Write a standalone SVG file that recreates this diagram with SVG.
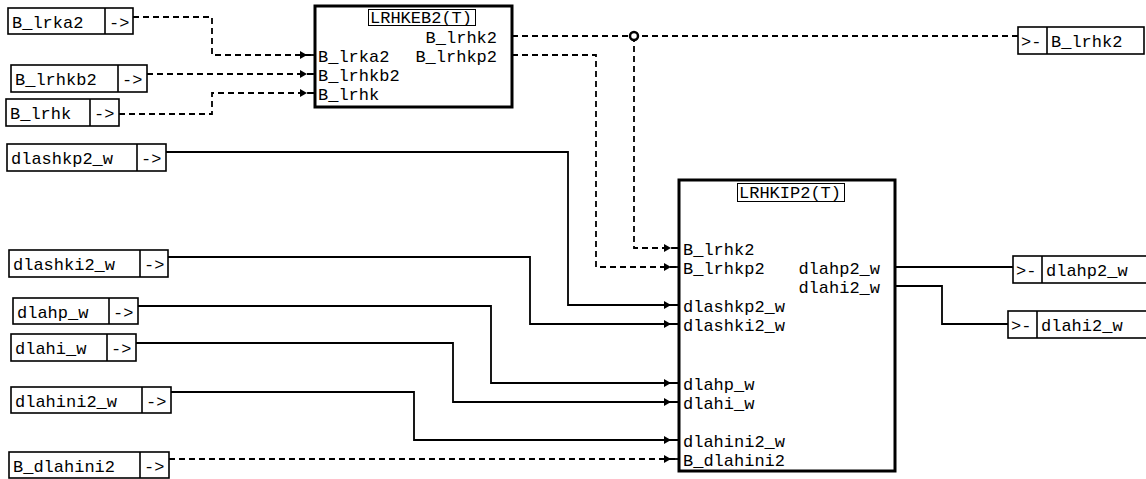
<svg xmlns="http://www.w3.org/2000/svg" width="1146" height="479" viewBox="0 0 1146 479">
<defs>
<style>
text{font-family:"Liberation Mono","DejaVu Sans Mono",monospace;font-size:17px;fill:#000}
.io{fill:#fff;stroke:#000;stroke-width:1.6}
.blk{fill:#fff;stroke:#000;stroke-width:3}
.ttl{fill:#fff;stroke:#000;stroke-width:1}
.c{fill:none;stroke:#000;stroke-width:1.8}
.d{stroke-dasharray:6,4}
.a{marker-end:url(#arr)}
.end{text-anchor:end}
</style>
<marker id="arr" markerUnits="userSpaceOnUse" markerWidth="16" markerHeight="10" refX="15" refY="4" orient="auto">
<path d="M0,0 L7,4 L0,8 Z" fill="#000"/>
<path d="M7,4 L15,4" stroke="#000" stroke-width="1.8"/>
</marker>
</defs>
<rect width="1146" height="479" fill="#fff"/>

<g id="connectors">
<path class="c d a" d="M133,17 H212 V55 H315"/>
<path class="c d a" d="M147,74 H315"/>
<path class="c d a" d="M119,114 H212 V93 H315"/>
<path class="c d" d="M512,36 H1018"/>
<path class="c d a" d="M634,36 V248 H679"/>
<path class="c d a" d="M512,55 H596 V267 H679"/>
<path class="c a" d="M166,152 H568 V305 H679"/>
<path class="c a" d="M168,257 H530 V324 H679"/>
<path class="c a" d="M138,306 H491 V383 H679"/>
<path class="c a" d="M136,343 H453 V402 H679"/>
<path class="c a" d="M171,392 H414 V440 H679"/>
<path class="c d a" d="M169,459 H679"/>
<path class="c" d="M895,267 H1013"/>
<path class="c" d="M895,286 H942 V324 H1008"/>
<circle cx="634" cy="36" r="4" fill="#fff" stroke="#000" stroke-width="2.5"/>
</g>

<g id="in_B_lrka2"><rect class="io" x="8" y="8" width="125" height="26"/><line class="io" x1="105" y1="8" x2="105" y2="34"/><text x="12" y="28">B_lrka2</text><text x="109" y="28">-&gt;</text></g>
<g id="in_B_lrhkb2"><rect class="io" x="11" y="65" width="136" height="27"/><line class="io" x1="118" y1="65" x2="118" y2="92"/><text x="15" y="85">B_lrhkb2</text><text x="122" y="85">-&gt;</text></g>
<g id="in_B_lrhk"><rect class="io" x="6" y="99" width="113" height="27"/><line class="io" x1="90" y1="99" x2="90" y2="126"/><text x="10" y="119">B_lrhk</text><text x="94" y="119">-&gt;</text></g>
<g id="in_dlashkp2_w"><rect class="io" x="7" y="144" width="159" height="27"/><line class="io" x1="137" y1="144" x2="137" y2="171"/><text x="11" y="164">dlashkp2_w</text><text x="141" y="164">-&gt;</text></g>
<g id="in_dlashki2_w"><rect class="io" x="9" y="250" width="159" height="27"/><line class="io" x1="140" y1="250" x2="140" y2="277"/><text x="13" y="270">dlashki2_w</text><text x="144" y="270">-&gt;</text></g>
<g id="in_dlahp_w"><rect class="io" x="13" y="298" width="125" height="26"/><line class="io" x1="109" y1="298" x2="109" y2="324"/><text x="17" y="318">dlahp_w</text><text x="113" y="318">-&gt;</text></g>
<g id="in_dlahi_w"><rect class="io" x="11" y="334" width="125" height="27"/><line class="io" x1="107" y1="334" x2="107" y2="361"/><text x="15" y="354">dlahi_w</text><text x="111" y="354">-&gt;</text></g>
<g id="in_dlahini2_w"><rect class="io" x="11" y="387" width="160" height="26"/><line class="io" x1="142" y1="387" x2="142" y2="413"/><text x="15" y="407">dlahini2_w</text><text x="146" y="407">-&gt;</text></g>
<g id="in_B_dlahini2"><rect class="io" x="9" y="452" width="160" height="26"/><line class="io" x1="140" y1="452" x2="140" y2="478"/><text x="13" y="472">B_dlahini2</text><text x="144" y="472">-&gt;</text></g>

<g id="LRHKEB2">
<rect class="blk" x="315" y="6" width="197" height="101"/>
<rect class="ttl" x="368.5" y="9.5" width="107" height="16"/>
<text x="370" y="23">LRHKEB2(T)</text>
<text x="318" y="62">B_lrka2</text>
<text x="318" y="81">B_lrhkb2</text>
<text x="318" y="100">B_lrhk</text>
<text class="end" x="497" y="43">B_lrhk2</text>
<text class="end" x="497" y="62">B_lrhkp2</text>
</g>

<g id="LRHKIP2">
<rect class="blk" x="679" y="180" width="216" height="291"/>
<rect class="ttl" x="737.5" y="183.5" width="107" height="18"/>
<text x="739" y="198">LRHKIP2(T)</text>
<text x="683" y="255">B_lrhk2</text>
<text x="683" y="274">B_lrhkp2</text>
<text x="683" y="312">dlashkp2_w</text>
<text x="683" y="331">dlashki2_w</text>
<text x="683" y="390">dlahp_w</text>
<text x="683" y="409">dlahi_w</text>
<text x="683" y="447">dlahini2_w</text>
<text x="683" y="466">B_dlahini2</text>
<text class="end" x="880" y="274">dlahp2_w</text>
<text class="end" x="880" y="293">dlahi2_w</text>
</g>

<g id="out_B_lrhk2"><rect class="io" x="1018" y="27" width="126" height="27"/><line class="io" x1="1047" y1="27" x2="1047" y2="54"/><text x="1021" y="47">&gt;-</text><text x="1051" y="47">B_lrhk2</text></g>
<g id="out_dlahp2_w"><rect class="io" x="1013" y="256" width="140" height="27"/><line class="io" x1="1042" y1="256" x2="1042" y2="283"/><text x="1016" y="276">&gt;-</text><text x="1046" y="276">dlahp2_w</text></g>
<g id="out_dlahi2_w"><rect class="io" x="1008" y="311" width="145" height="27"/><line class="io" x1="1037" y1="311" x2="1037" y2="338"/><text x="1011" y="331">&gt;-</text><text x="1041" y="331">dlahi2_w</text></g>
</svg>
